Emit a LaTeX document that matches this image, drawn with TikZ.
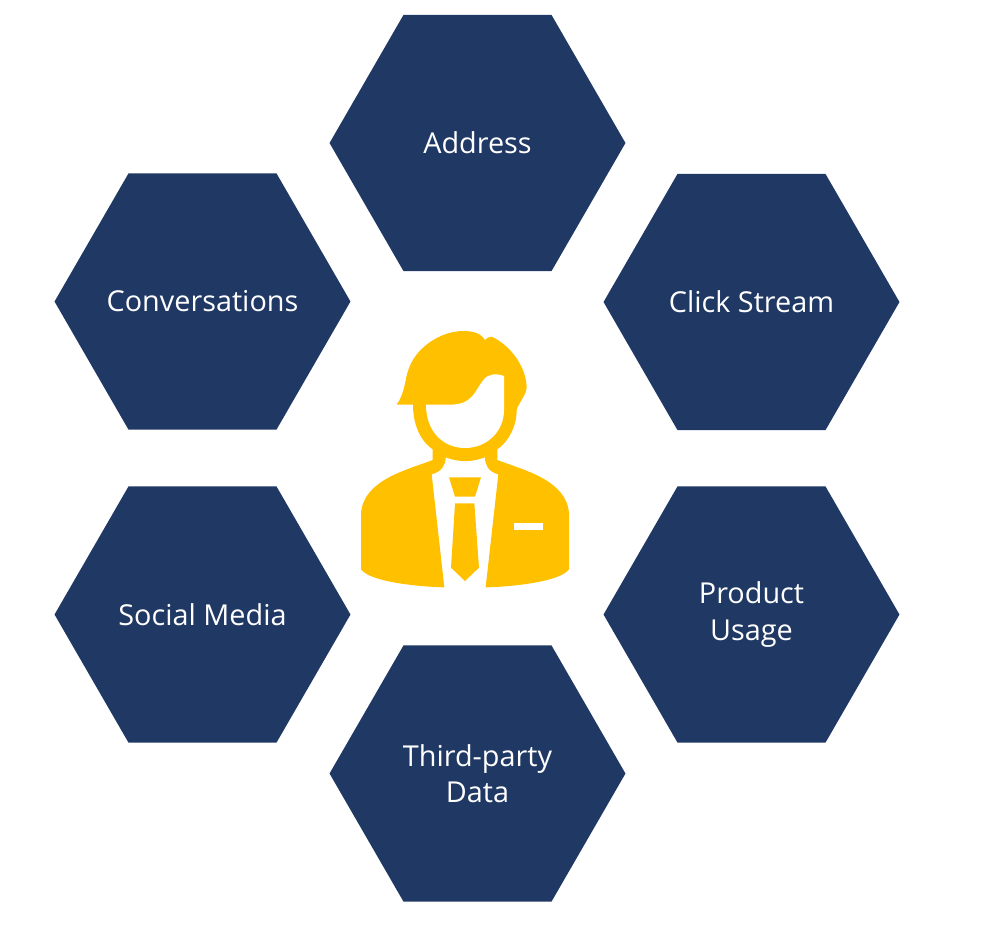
\documentclass[tikz,border=0pt]{standalone}
\usepackage{fontspec}
\setmainfont{Open Sans}
\usetikzlibrary{shapes.geometric}
\definecolor{hexblue}{HTML}{203864}
\definecolor{persongold}{HTML}{FFC000}
\tikzset{
  hexnode/.style={regular polygon,regular polygon sides=6,shape border rotate=0,
    minimum size=5.92cm,inner sep=0pt,outer sep=0pt,fill=hexblue,text=white,align=center,
    font=\fontsize{16.4}{20.6}\selectfont}
}
\begin{document}
\begin{tikzpicture}[x=0.02cm,y=-0.02cm]
\useasboundingbox (0,0) rectangle (994,931);
\node[hexnode] (address) at(477.5,143) {Address};
\node[hexnode] (click) at(751.5,302) {Click Stream};
\node[hexnode] (product) at(751.5,614.5) {Product\\Usage};
\node[hexnode] (third) at(477.5,773.5) {Third-party\\Data};
\node[hexnode] (social) at(202.5,614.5) {Social Media};
\node[hexnode] (talk) at(202.5,301.5) {\makebox[0pt]{Conversations}};

% person
\begin{scope}[shift={(340,320)},scale=1/3]
\fill [persongold] (170,254) .. controls (195,220) and (195,175) .. (205,150)
  .. controls (225,85) and (300,33) .. (370,33)
  .. controls (410,33) and (425,45) .. (435,60)
  .. controls (440,55) and (445,50) .. (455,50)
  .. controls (510,75) and (560,140) .. (560,205)
  .. controls (555,230) and (535,250) .. (530,270)
  .. controls (530,320) and (505,365) .. (472,388)
  -- (472,420)
  .. controls (550,450) and (680,480) .. (687,580)
  -- (687,748)
  .. controls (660,785) and (520,800) .. (437,802)
  -- (475,463)
  .. controls (445,455) and (435,435) .. (435,412)
  .. controls (395,427) and (355,427) .. (317,412)
  .. controls (317,435) and (305,455) .. (275,463)
  -- (313,802)
  .. controls (230,800) and (90,785) .. (63,748)
  -- (63,580)
  .. controls (70,480) and (200,450) .. (278,420)
  -- (278,388)
  .. controls (245,365) and (219,320) .. (219,254)
  -- cycle;
\fill [white] (258,254) -- (330,254)
  .. controls (400,254) and (405,210) .. (430,180)
  .. controls (445,160) and (470,160) .. (492,168)
  -- (492,270)
  .. controls (492,335) and (440,384) .. (375,384)
  .. controls (310,384) and (258,335) .. (258,254) -- cycle;
\fill [persongold] (327,472) -- (423,472) -- (405,530) -- (345,530) -- cycle;
\fill [persongold] (345,550) -- (403,550) -- (417,743) -- (375,783) -- (333,743) -- cycle;
\fill [white] (521,608) rectangle (609,629);
\end{scope}
\end{tikzpicture}
\end{document}
